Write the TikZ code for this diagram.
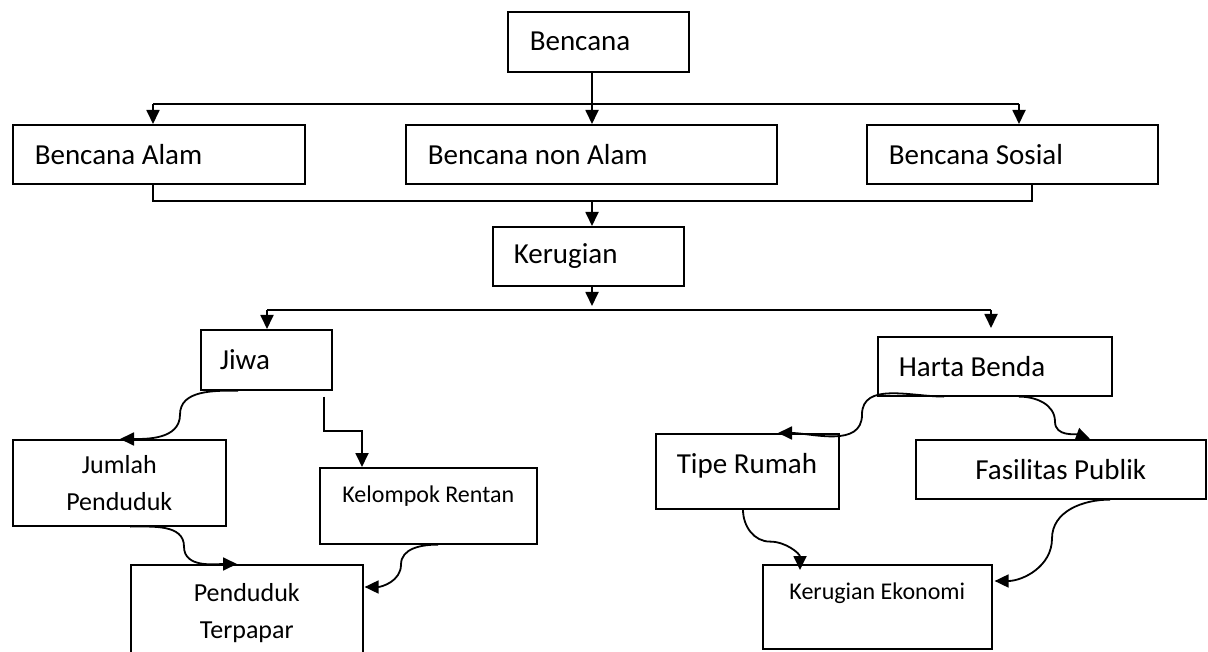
\documentclass[tikz,border=0pt]{standalone}
\usepackage{fontspec}
\setmainfont{Carlito}
\usetikzlibrary{arrows.meta,calc}

\begin{document}
\begin{tikzpicture}
  [x=1pt,y=-1pt,line width=1.8pt,
   box/.style={draw,anchor=north west,inner ysep=0pt,line width=1.6pt},
   lbox/.style={box,align=flush left,inner xsep=#1},
   cbox/.style={box,inner xsep=0pt},
   txtL/.style={font=\fontsize{29}{35}\selectfont},
   txtM/.style={font=\fontsize{26}{37}\selectfont},
   txtS/.style={font=\fontsize{24}{30}\selectfont},
   arr/.style={-{Triangle[length=14pt,width=13pt]}}]
  \clip (0,0) rectangle (1208,652);

  \node[lbox=22pt,txtL,text width=137pt,minimum height=60pt] (bencana) at (507,11) {Bencana};
  \node[lbox=22pt,txtL,text width=248pt,minimum height=59pt] (alam) at (12,124) {Bencana Alam};
  \node[lbox=22pt,txtL,text width=327pt,minimum height=59pt] (nonalam) at (405,124) {Bencana non Alam};
  \node[lbox=22pt,txtL,text width=247pt,minimum height=59pt] (sosial) at (866,124) {Bencana Sosial};
  \node[lbox=21pt,txtL,text width=149pt,minimum height=59pt] (kerugian) at (492,226) {Kerugian};
  \node[lbox=19pt,txtL,text width=93pt,minimum height=60pt] (jiwa) at (200,329) {Jiwa};
  \node[lbox=21pt,txtL,text width=192pt,minimum height=59pt] (harta) at (877,336) {Harta Benda};
  \node[cbox,txtM,align=center,minimum width=213pt,minimum height=86pt] (jumlah) at (12,439) {Jumlah\\Penduduk};
  \node[cbox,txtS,minimum width=217pt,minimum height=76pt,text height=16pt,text depth=23pt] (rentan) at (319,467) {Kelompok Rentan};
  \node[cbox,txtM,align=center,minimum width=232pt,minimum height=96pt] (terpapar) at (130,564) {Penduduk\\Terpapar};
  \node[lbox=21pt,txtL,text width=141pt,minimum height=75pt,text height=20pt,text depth=16pt] (tipe) at (655,433) {Tipe Rumah};
  \node[cbox,txtL,minimum width=290pt,minimum height=59pt] (fasilitas) at (915,439) {Fasilitas Publik};
  \node[cbox,txtS,minimum width=229pt,minimum height=84pt,text height=16pt,text depth=31pt] (ekonomi) at (762,564) {Kerugian Ekonomi};

  \coordinate (split) at (592,104);
  \coordinate (splitL) at (153,104);
  \coordinate (splitR) at (1019,104);
  \draw (splitL) -- (splitR);
  \draw[arr] (bencana.south -| split) -- (split |- nonalam.north);
  \foreach \c/\n in {splitL/alam,splitR/sosial}
    \draw[arr] (\c) -- (\c |- \n.north);

  \coordinate (joinL) at (153,201);
  \coordinate (joinR) at (1032,201);
  \draw (alam.south -| joinL) -- (joinL) -- (joinR) -- (sosial.south -| joinR);
  \draw[arr] (joinL -| split) -- (split |- kerugian.north);

  \coordinate (loss) at (592,310);
  \coordinate (lossL) at (267,310);
  \coordinate (lossR) at (991,310);
  \draw[arr,shorten >=4pt] (kerugian.south -| loss) -- (loss);
  \draw (lossL) -- (lossR);
  \draw[arr] (lossL) -- (lossL |- jiwa.north);
  \draw[arr,shorten >=8pt] (lossR) -- (lossR |- harta.north);

  \coordinate (bend) at (362,431);
  \draw[arr] ($(jiwa.south east)+(-9,6)$) |- (bend) -- (bend |- rentan.north);

  \draw[arr] ($(jiwa.south west)+(38,0)$) to[out=180,in=90] ++(-58,24)
    to[out=-90,in=0] ($(jumlah.north west)+(108,0)$);
  \draw[arr] ($(jumlah.south west)+(118,0)$) to[out=0,in=90] ++(54,20)
    to[out=-90,in=180] ($(terpapar.north west)+(107,0)$);
  \draw[arr] ($(rentan.south west)+(119,0)$) to[out=180,in=90] ++(-37,20)
    to[out=-90,in=0] ($(terpapar.north east)+(1,23)$);

  \draw[arr] ($(harta.south west)+(67,0)$) to[out=180,in=90] ++(-82,18)
    to[out=-90,in=0] ($(tipe.north west)+(123,0)$);
  \draw[arr] ($(harta.south west)+(142,0)$) to[out=0,in=90] ++(36,25)
    to[out=-90,in=160] ($(fasilitas.north west)+(175,0)$);
  \draw[arr] ($(tipe.south west)+(88,0)$) to[out=-90,in=180] ++(27,32)
    to[out=0,in=90] ($(ekonomi.north west)+(38,6)$);
  \draw[arr] ($(fasilitas.south west)+(195,0)$) to[out=180,in=90] ++(-58,39)
    to[out=-90,in=0] ($(ekonomi.north east)+(2,17)$);
\end{tikzpicture}
\end{document}
